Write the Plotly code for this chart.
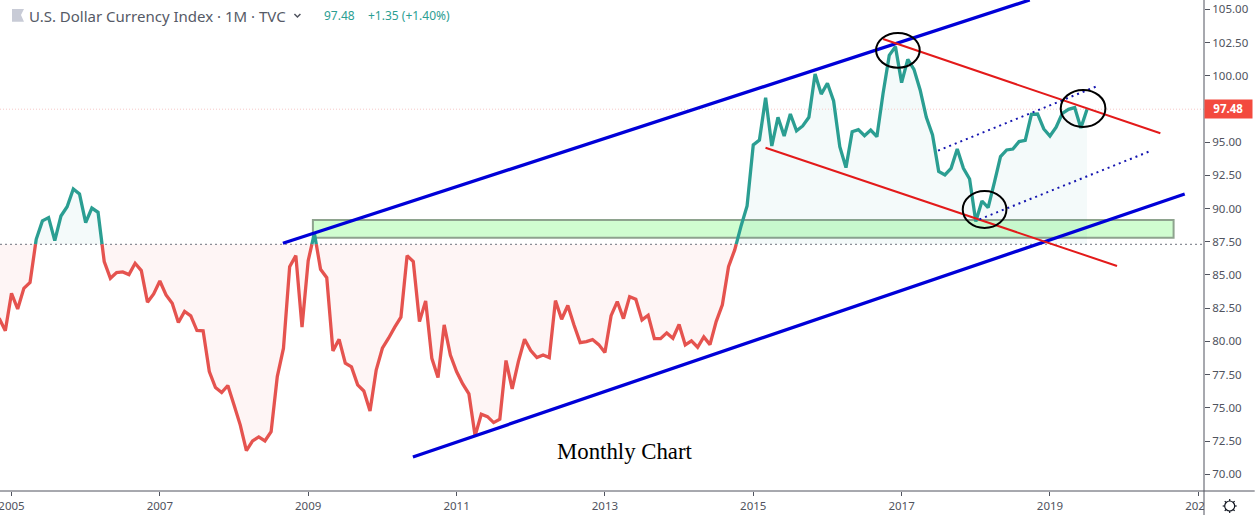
import math
import plotly.graph_objects as go

# Monthly closes, starting Nov 2004 (month index -2; index 0 = Jan 2005)
first_month = -2
closes = [81.74, 80.81, 83.62, 82.44, 84.00, 84.43, 87.69, 89.07, 89.32, 87.59, 89.44, 90.14,
          91.47, 91.10, 88.94, 90.04, 89.72, 86.01, 84.75, 85.18, 85.23, 85.03, 85.88, 85.33,
          82.95, 83.58, 84.55, 83.50, 82.87, 81.42, 82.25, 81.92, 80.82, 80.80, 77.73, 76.53,
          76.15, 76.68, 75.22, 73.72, 71.78, 72.51, 72.81, 72.51, 73.21, 77.35, 79.49, 85.63,
          86.46, 81.07, 86.08, 88.14, 85.43, 84.80, 79.29, 80.16, 78.36, 78.08, 76.73, 76.27,
          74.77, 77.85, 79.49, 80.24, 81.07, 81.82, 86.46, 86.01, 81.49, 83.05, 78.73, 77.28,
          81.24, 78.98, 77.73, 76.80, 76.05, 72.89, 74.52, 74.34, 73.89, 74.14, 78.56, 76.42,
          78.48, 80.16, 79.31, 78.78, 78.98, 78.78, 83.07, 81.67, 82.70, 81.24, 79.91, 79.99,
          80.14, 79.76, 79.16, 81.94, 83.00, 81.72, 83.37, 83.17, 81.62, 81.97, 80.21, 80.21,
          80.64, 80.24, 81.27, 79.74, 80.04, 79.56, 80.34, 79.76, 81.49, 82.75, 85.63, 86.89,
          88.64, 90.19, 94.79, 95.16, 98.35, 94.71, 96.87, 95.46, 97.12, 95.86, 96.22, 96.87,
          100.13, 98.62, 99.43, 98.10, 94.66, 93.08, 95.79, 95.94, 95.49, 95.91, 95.41, 98.67,
          101.53, 102.19, 99.48, 101.23, 100.48, 98.93, 96.87, 95.54, 92.80, 92.53, 93.03, 94.48,
          93.03, 92.23, 89.02, 90.57, 90.07, 91.95, 93.91, 94.41, 94.48, 95.04, 95.14, 97.09,
          97.12, 95.99, 95.46, 96.12, 97.17, 97.47, 97.60, 96.07, 97.48]
baseline = 87.31
last_price = 97.48

year_labels = ["2005", "2007", "2009", "2011", "2013", "2015", "2017", "2019", "2021"]
year_months = [0, 24, 48, 72, 96, 120, 144, 168, 192]
price_ticks = [70, 72.5, 75, 77.5, 80, 82.5, 85, 87.5, 90, 92.5, 95, 100, 102.5, 105]

# Drawn analysis objects (month index, price)
upper_channel = ([43.91, 164.73], [87.39, 105.70])
lower_channel = ([64.94, 189.80], [71.30, 91.10])
upper_red = ([141.0, 185.86], [102.76, 95.67])
lower_red = ([121.98, 178.85], [94.58, 85.68])
upper_dotted = ([149.9, 175.4], [94.36, 99.17])
lower_dotted = ([156.6, 183.97], [89.19, 94.28])
zone = (48.76, 188.0, 87.81, 89.14)
ellipses = [(139.87, 146.93, 100.60, 103.22),
            (169.74, 176.97, 96.14, 98.93),
            (153.89, 160.96, 88.54, 91.32)]

W, H = 1255, 515
PLOT_R, PLOT_B = 1204.3, 491.0
X_RANGE = [-1.86, 192.92]
Y_RANGE = [68.74, 105.70]

TEAL = "#2b9e92"
RED = "#e5534f"
BLUE = "#0000d8"
LINE_RED = "#e31a1a"
AXIS = "#50535e"
TEXT = "#50535e"

months = [first_month + i for i in range(len(closes))]
xs, ys = [], []
for i, (m, c) in enumerate(zip(months, closes)):
    if i:
        p = closes[i - 1]
        if (p - baseline) * (c - baseline) < 0:
            xs.append(m - 1 + (baseline - p) / (c - p))
            ys.append(baseline)
    xs.append(m)
    ys.append(c)

above = [max(v, baseline) for v in ys]
below = [min(v, baseline) for v in ys]
line_up = [v if v >= baseline else None for v in ys]
line_dn = [v if v <= baseline else None for v in ys]
base = [baseline] * len(xs)

fig = go.Figure()


def area(values, color):
    fig.add_trace(go.Scatter(x=xs, y=base, mode="lines", line=dict(width=0), hoverinfo="skip"))
    fig.add_trace(go.Scatter(x=xs, y=values, mode="lines", line=dict(width=0), fill="tonexty",
                             fillcolor=color, hoverinfo="skip"))


area(above, "rgba(38,166,154,0.05)")
area(below, "rgba(239,83,80,0.06)")

# reference lines
fig.add_trace(go.Scatter(x=X_RANGE, y=[last_price, last_price], mode="lines",
                         line=dict(color="#f6c9c7", width=1, dash="1px,2px"), hoverinfo="skip"))
fig.add_trace(go.Scatter(x=X_RANGE, y=[baseline, baseline], mode="lines",
                         line=dict(color="#70747f", width=1, dash="2px,3px"), hoverinfo="skip"))

fig.add_trace(go.Scatter(x=xs, y=line_up, mode="lines", line=dict(color=TEAL, width=3.3, simplify=False),
                         hoverinfo="skip"))
fig.add_trace(go.Scatter(x=xs, y=line_dn, mode="lines", line=dict(color=RED, width=3.3, simplify=False),
                         hoverinfo="skip"))

for seg, color, width, dash in [
    (upper_channel, BLUE, 3.3, "solid"),
    (lower_channel, BLUE, 3.3, "solid"),
    (upper_red, LINE_RED, 2, "solid"),
    (lower_red, LINE_RED, 2, "solid"),
    (upper_dotted, "#1515b0", 2, "2px,4px"),
    (lower_dotted, "#1515b0", 2, "2px,4px"),
]:
    fig.add_trace(go.Scatter(x=seg[0], y=seg[1], mode="lines",
                             line=dict(color=color, width=width, dash=dash), hoverinfo="skip"))


def px(x):
    return x / PLOT_R


def py(y):
    return 1 - y / PLOT_B


shapes = [dict(type="rect", layer="below", xref="x", yref="y", x0=zone[0], x1=zone[1], y0=zone[2], y1=zone[3],
               fillcolor="#d0fdd0", line=dict(color="#8ea38e", width=2))]
for e in ellipses:
    shapes.append(dict(type="circle", layer="above", xref="x", yref="y", x0=e[0], x1=e[1], y0=e[2], y1=e[3],
                       line=dict(color="#000000", width=2)))

def paper_path(points, **kw):
    d = "M " + " L ".join(f"{px(a):.5f} {py(b):.5f}" for a, b in points)
    return dict(type="path", layer="above", xref="paper", yref="paper", path=d, **kw)


# mask for the clipped time label, axis extensions
shapes.append(dict(type="rect", layer="above", xref="paper", yref="paper", x0=px(PLOT_R), x1=px(W),
                   y0=py(H), y1=py(PLOT_B), fillcolor="white", line=dict(width=0)))
shapes.append(paper_path([(0, PLOT_B), (W, PLOT_B)], line=dict(color=AXIS, width=1)))
shapes.append(paper_path([(PLOT_R, 0), (PLOT_R, H)], line=dict(color=AXIS, width=1)))
# flag icon and chevron in the title bar
shapes.append(paper_path([(12, 9), (24, 9), (21, 15), (24, 21.7), (12, 21.7)],
                         fillcolor="#c8cbd6", line=dict(width=0)))
shapes[-1]["path"] += " Z"
shapes.append(paper_path([(294.5, 14), (297.5, 17), (300.5, 14)], line=dict(color="#50535e", width=1.5)))
# settings icon
cx, cy = 1230, 506
shapes.append(dict(type="circle", layer="above", xref="paper", yref="paper",
                   x0=px(cx - 5), x1=px(cx + 5), y0=py(cy + 5), y1=py(cy - 5),
                   line=dict(color="#131722", width=1.2)))
for a in range(8):
    t = a * math.pi / 4
    shapes.append(paper_path([(cx + 5 * math.cos(t), cy + 5 * math.sin(t)),
                              (cx + 7 * math.cos(t), cy + 7 * math.sin(t))],
                             line=dict(color="#131722", width=1.2)))

FONT = "Noto Sans"


def note(x, y, text, size, color, anchor="left", family=FONT, **kw):
    return dict(xref="paper", yref="paper", x=px(x), y=py(y), text=text, showarrow=False,
                xanchor=anchor, yanchor="middle", font=dict(family=family, size=size, color=color), **kw)


annotations = [
    note(27, 15.5, "U.S. Dollar Currency Index · 1M · TVC", 15, "#555a66"),
    note(322.5, 16, "97.48", 12, TEAL),
    note(366, 16, "+1.35 (+1.40%)", 12, TEAL),
    note(625.5, 451.5, "Monthly Chart", 22.8, "#000000", anchor="center", family="Liberation Serif"),
    dict(xref="paper", yref="y", x=px(1204.3), y=last_price, text="<b>97.48</b>", showarrow=False,
         xanchor="left", yanchor="middle", width=46.7, height=17.7, align="center", valign="middle",
         bgcolor="#f34a3e", borderpad=0, font=dict(family=FONT, size=11.5, color="white")),
]

fig.update_layout(
    width=W, height=H,
    margin=dict(l=0, r=W - PLOT_R, t=0, b=H - PLOT_B, pad=0),
    paper_bgcolor="white", plot_bgcolor="white",
    showlegend=False, hovermode=False,
    shapes=shapes, annotations=annotations,
    font=dict(family=FONT, color=TEXT),
    xaxis=dict(range=X_RANGE, tickmode="array", tickvals=year_months, ticktext=year_labels,
               ticks="outside", ticklen=4, tickcolor=AXIS, tickfont=dict(size=11.5, color=TEXT, family=FONT),
               ticklabeloverflow="allow",
               showgrid=False, zeroline=False, showline=False, automargin=False, tickangle=0),
    yaxis=dict(range=Y_RANGE, side="right", tickmode="array", tickvals=price_ticks,
               ticktext=[f"{p:.2f}" for p in price_ticks],
               ticks="outside", ticklen=5, tickcolor=AXIS, tickfont=dict(size=11.5, color=TEXT, family=FONT),
               ticklabeloverflow="allow",
               showgrid=False, zeroline=False, showline=False, automargin=False),
)

fig.write_html("out.html", config=dict(displayModeBar=False),
               post_script="document.body.style.margin='0';document.body.style.overflow='hidden';")
